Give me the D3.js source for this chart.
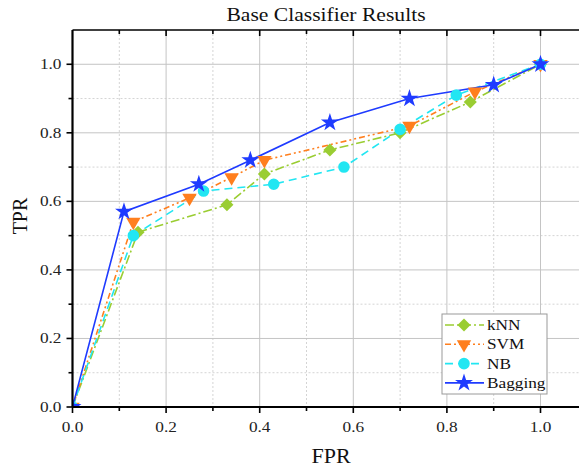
<!DOCTYPE html>
<html>
<head>
<meta charset="utf-8">
<script src="https://cdn.jsdelivr.net/npm/d3@7"></script>
<style>
  html, body { margin: 0; padding: 0; background: #fff; overflow: hidden; }
  svg { display: block; font-family: "Liberation Serif", "Times New Roman", serif; }
</style>
</head>
<body>
<div id="chart"></div>
<script>
const seriesNames = ["kNN", "SVM", "NB", "Bagging"];
const knnFpr = [0, 0.14, 0.33, 0.41, 0.55, 0.70, 0.85, 1.0];
const knnTpr = [0, 0.51, 0.59, 0.68, 0.75, 0.80, 0.89, 1.0];
const svmFpr = [0, 0.13, 0.25, 0.34, 0.41, 0.72, 0.86, 1.0];
const svmTpr = [0, 0.54, 0.61, 0.67, 0.72, 0.82, 0.92, 1.0];
const nbFpr = [0, 0.13, 0.28, 0.43, 0.58, 0.70, 0.82, 1.0];
const nbTpr = [0, 0.50, 0.63, 0.65, 0.70, 0.81, 0.91, 1.0];
const bagFpr = [0, 0.11, 0.27, 0.38, 0.55, 0.72, 0.90, 1.0];
const bagTpr = [0, 0.57, 0.65, 0.72, 0.83, 0.90, 0.94, 1.0];
const majorTicks = [0, 0.2, 0.4, 0.6, 0.8, 1.0];
const minorTicks = [0.1, 0.3, 0.5, 0.7, 0.9];

// diamond = square turned 45deg, triangle turned to point down
const styles = {
  kNN: { color: "#9acd32", dash: "9,3,2,3", symbol: d3.symbolSquare, size: 85, rot: 45 },
  SVM: { color: "#ff7f1e", dash: "6,3,2,3,2,3", symbol: d3.symbolTriangle, size: 90, rot: 180 },
  NB: { color: "#22e6f2", dash: "8,5", symbol: d3.symbolCircle, size: 105, rot: 0 },
  Bagging: { color: "#1f3bff", dash: null, symbol: d3.symbolStar, size: 100, rot: 0 },
};

const series = [
  { name: "kNN", xs: knnFpr, ys: knnTpr },
  { name: "SVM", xs: svmFpr, ys: svmTpr },
  { name: "NB", xs: nbFpr, ys: nbTpr },
  { name: "Bagging", xs: bagFpr, ys: bagTpr },
];

const W = 579, H = 469;
const pLeft = 72.5, pTop = 30, pBottom = 407;
const x = d3.scaleLinear().domain([0, 1]).range([pLeft, 540.5]);
const y = d3.scaleLinear().domain([0, 1.1]).range([pBottom, pTop]);
const pRight = x(1.1);
const SX = 1.15; // text in the source is a bit wide

const svg = d3.select("#chart").append("svg").attr("width", W).attr("height", H);

svg.append("defs").append("clipPath").attr("id", "plotClip")
  .append("rect").attr("x", pLeft).attr("y", pTop).attr("width", pRight - pLeft).attr("height", pBottom - pTop);

// grid
const grid = svg.append("g");
grid.selectAll(".vmin").data(minorTicks).join("line")
  .attr("x1", (d) => x(d)).attr("x2", (d) => x(d)).attr("y1", pTop).attr("y2", pBottom)
  .attr("stroke", "#d4d4d4").attr("stroke-width", 1).attr("stroke-dasharray", "2,2");
grid.selectAll(".hmin").data(minorTicks).join("line")
  .attr("y1", (d) => y(d)).attr("y2", (d) => y(d)).attr("x1", pLeft).attr("x2", pRight)
  .attr("stroke", "#d4d4d4").attr("stroke-width", 1).attr("stroke-dasharray", "2,2");
grid.selectAll(".vmaj").data(majorTicks.slice(1)).join("line")
  .attr("x1", (d) => x(d)).attr("x2", (d) => x(d)).attr("y1", pTop).attr("y2", pBottom)
  .attr("stroke", "#c4c4c4").attr("stroke-width", 1);
grid.selectAll(".hmaj").data(majorTicks.slice(1)).join("line")
  .attr("y1", (d) => y(d)).attr("y2", (d) => y(d)).attr("x1", pLeft).attr("x2", pRight)
  .attr("stroke", "#c4c4c4").attr("stroke-width", 1);

// series
const plot = svg.append("g").attr("clip-path", "url(#plotClip)");
const line = d3.line().x((d) => x(d[0])).y((d) => y(d[1]));
for (const s of series) {
  const st = styles[s.name];
  const pts = s.xs.map((v, i) => [v, s.ys[i]]);
  plot.append("path").datum(pts).attr("d", line)
    .attr("fill", "none").attr("stroke", st.color).attr("stroke-width", 1.6)
    .attr("stroke-dasharray", st.dash);
}
for (const s of series) {
  const st = styles[s.name];
  const pts = s.xs.map((v, i) => [v, s.ys[i]]);
  plot.selectAll(null).data(pts).join("path")
    .attr("d", d3.symbol().type(st.symbol).size(st.size))
    .attr("transform", (d) => `translate(${x(d[0])},${y(d[1])}) rotate(${st.rot})`)
    .attr("fill", st.color);
}

// axes
const axes = svg.append("g").attr("stroke", "#000");
axes.append("line").attr("x1", pLeft).attr("x2", W).attr("y1", pTop).attr("y2", pTop).attr("stroke-width", 1.5);
axes.append("line").attr("x1", pLeft).attr("x2", W).attr("y1", pBottom).attr("y2", pBottom).attr("stroke-width", 2.2);
axes.append("line").attr("x1", pLeft).attr("x2", pLeft).attr("y1", pTop).attr("y2", pBottom).attr("stroke-width", 2.2);
const allX = majorTicks.concat(minorTicks);
axes.selectAll(".bt").data(allX).join("line")
  .attr("x1", (d) => x(d)).attr("x2", (d) => x(d))
  .attr("y1", pBottom).attr("y2", (d) => pBottom + (majorTicks.includes(d) ? 6 : 4)).attr("stroke-width", 1.6);
axes.selectAll(".tt").data(allX.filter((d) => d > 0)).join("line")
  .attr("x1", (d) => x(d)).attr("x2", (d) => x(d))
  .attr("y1", pTop).attr("y2", (d) => pTop + (majorTicks.includes(d) ? 6 : 4)).attr("stroke-width", 1.6);
axes.selectAll(".lt").data(allX).join("line")
  .attr("y1", (d) => y(d)).attr("y2", (d) => y(d))
  .attr("x1", pLeft).attr("x2", (d) => pLeft - (majorTicks.includes(d) ? 6 : 4)).attr("stroke-width", 1.6);

const fmt = d3.format(".1f");
svg.append("g").selectAll("text").data(majorTicks).join("text")
  .attr("transform", (d) => `translate(${x(d)},${pBottom + 25}) scale(${SX},1)`)
  .attr("text-anchor", "middle").attr("font-size", 15).attr("fill", "#222").text(fmt);
svg.append("g").selectAll("text").data(majorTicks).join("text")
  .attr("transform", (d) => `translate(${pLeft - 11},${y(d) + 5}) scale(${SX},1)`)
  .attr("text-anchor", "end").attr("font-size", 15).attr("fill", "#222").text(fmt);

svg.append("text").attr("transform", "translate(326,21) scale(1.2,1)").attr("text-anchor", "middle")
  .attr("font-size", 18).attr("fill", "#111").text("Base Classifier Results");
svg.append("text").attr("transform", "translate(331,463) scale(1.1,1)").attr("text-anchor", "middle")
  .attr("font-size", 20).attr("fill", "#111").text("FPR");
svg.append("text").attr("transform", "translate(27,216) rotate(-90)")
  .attr("text-anchor", "middle").attr("font-size", 20).attr("fill", "#111").text("TPR");

// legend
const lg = svg.append("g").attr("transform", "translate(442,314)");
lg.append("rect").attr("width", 105).attr("height", 80).attr("fill", "#fff")
  .attr("stroke", "#999").attr("stroke-width", 1);
seriesNames.forEach((name, i) => {
  const st = styles[name];
  const cy = 11 + i * 19.3;
  lg.append("line").attr("x1", 3).attr("x2", 42).attr("y1", cy).attr("y2", cy)
    .attr("stroke", st.color).attr("stroke-width", 1.6).attr("stroke-dasharray", st.dash);
  lg.append("path").attr("d", d3.symbol().type(st.symbol).size(st.size))
    .attr("transform", `translate(22,${cy}) rotate(${st.rot})`).attr("fill", st.color);
  lg.append("text").attr("transform", `translate(45,${cy + 5}) scale(${SX},1)`)
    .attr("font-size", 15).attr("fill", "#111").text(name);
});
</script>
</body>
</html>
